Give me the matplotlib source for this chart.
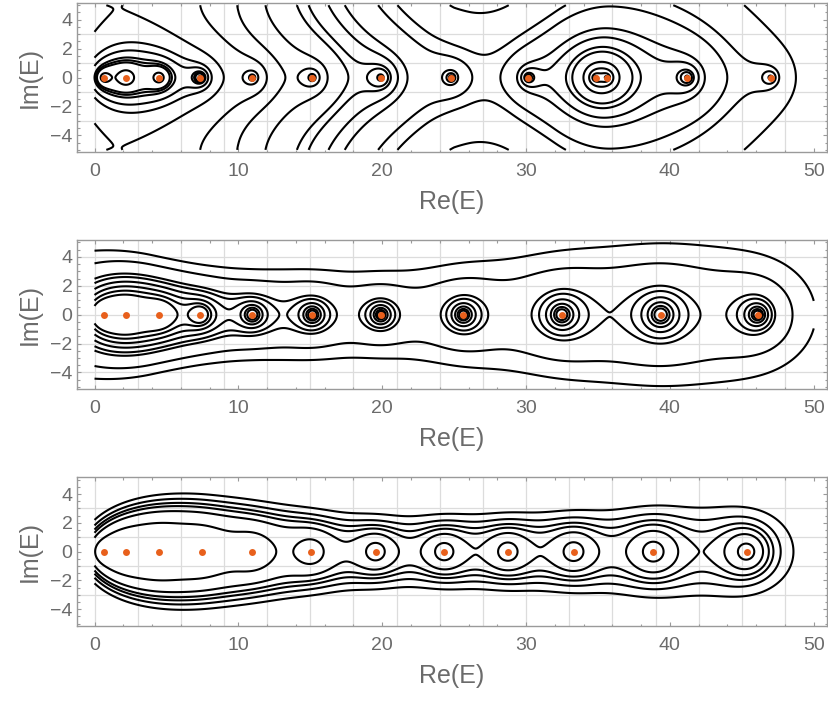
import numpy as np
import matplotlib
matplotlib.use("Agg")
import matplotlib.pyplot as plt
from matplotlib.ticker import MultipleLocator

plt.rcParams["font.family"] = ["Liberation Sans", "DejaVu Sans"]

# real eigenvalue estimates for the three truncations
roots_top = [0.67, 2.2, 4.5, 7.35, 10.98, 15.15, 19.9, 24.8, 30.16, 34.84, 35.6, 41.2, 47.0]
roots_mid = [0.67, 2.2, 4.5, 7.35, 10.98, 15.15, 19.9, 25.64, 32.48, 39.36, 46.1]
roots_bot = [0.67, 2.2, 4.5, 7.44, 10.98, 15.06, 19.55, 24.3, 28.73, 33.31, 38.85, 45.33]

# drift of log|f| along Re(E): slope given at a few knots
drift_x_top = [0, 5, 10, 14, 19, 23, 26, 29, 32, 36, 44, 50]
drift_s_top = [0.55, 0.52, 0.45, 0.37, 0.35, 0.3, 0.05, -0.45, -0.6, -0.3, -0.1, -0.1]
drift_x_mid = [0, 4, 8, 12, 17, 22, 30, 40, 50]
drift_s_mid = [0.6, 0.5, 0.15, -0.08, -0.12, -0.27, -0.29, -0.3, -0.33]
drift_x_bot = [0, 8, 17, 22, 26.5, 31, 36, 42, 50]
drift_s_bot = [0.25, 0.2, 0.0, -0.13, -0.2, -0.31, -0.41, -0.44, -0.45]

# flattening of log|f| across Im(E) (top panel only)
flat_x_top = [0, 10, 25, 50]
flat_c_top = [0.08, 0.07, 0.0, 0.0]
flat_x_none = [0, 50]
flat_c_none = [0.0, 0.0]

# contour levels of log|f|
levels_top = [31.98, 32.89, 33.08, 33.3, 33.78, 34.22, 35.02, 36.1, 37.0, 37.91, 38.93,
              39.31, 39.97, 40.52, 41.66, 42.32, 43.95]
levels_mid = [26.57, 26.92, 27.28, 27.64, 27.98, 28.22, 29.01, 29.6]
levels_bot = [29.4, 30.2, 30.52, 30.72, 30.97, 31.29]

xs = np.linspace(0, 50, 1400)
ys = np.linspace(-5, 5, 320)
X, Y = np.meshgrid(xs, ys)


def drift(x, knots, slopes):
    s = np.interp(xs, knots, slopes)
    g = np.concatenate([[0.0], np.cumsum(0.5 * (s[1:] + s[:-1]) * np.diff(xs))])
    return np.interp(x, xs, g)


def log_modulus(x, y, roots, knots, slopes, fx, fc):
    z = x + 1j * y
    total = drift(x, knots, slopes) - np.interp(x, fx, fc) * y ** 2
    for r in roots:
        total = total + np.log(np.abs(z - r) + 1e-12)
    return total


fig = plt.figure(figsize=(8.29, 7.02), dpi=100)
rects = [[0.0932, 0.7830, 0.904, 0.2131],
         [0.0932, 0.4454, 0.904, 0.2127],
         [0.0932, 0.1083, 0.904, 0.2118]]
grid_y = [[-3, -1, 1, 3], [-4, -2, 0, 2, 4], [-3, -1, 1, 3]]
panels = [(roots_top, drift_x_top, drift_s_top, flat_x_top, flat_c_top, levels_top),
          (roots_mid, drift_x_mid, drift_s_mid, flat_x_none, flat_c_none, levels_mid),
          (roots_bot, drift_x_bot, drift_s_bot, flat_x_none, flat_c_none, levels_bot)]

frame_col = "#9a9a9a"
text_col = "#6b6b6b"

for rect, gy, (roots, kx, ks, fx, fc, levels) in zip(rects, grid_y, panels):
    ax = fig.add_axes(rect)
    ax.set_xlim(-1.2, 50.9)
    ax.set_ylim(-5.17, 5.17)
    for gx in range(0, 49, 3):
        ax.axvline(gx, color="#dcdcdc", lw=0.9, zorder=0)
    for g in gy:
        ax.axhline(g, color="#dcdcdc", lw=0.9, zorder=0)

    phi = log_modulus(X, Y, roots, kx, ks, fx, fc)
    ax.contour(X, Y, phi, levels=levels, colors="black", linewidths=1.5, zorder=2)

    ax.plot(roots, np.zeros(len(roots)), "o", color="#e8601c", ms=5, mec="none", zorder=3)

    ax.xaxis.set_major_locator(MultipleLocator(10))
    ax.xaxis.set_minor_locator(MultipleLocator(2))
    ax.yaxis.set_major_locator(MultipleLocator(2))
    ax.yaxis.set_minor_locator(MultipleLocator(0.5))
    ax.tick_params(which="both", direction="in", top=True, right=True, color=frame_col,
                   labelcolor=text_col, labelsize=14)
    ax.tick_params(which="major", length=3.2, width=0.8)
    ax.tick_params(which="minor", length=1.8, width=0.8)
    ax.tick_params(axis="x", pad=8)
    ax.tick_params(axis="y", pad=3.5)
    for sp in ax.spines.values():
        sp.set_color(frame_col)
        sp.set_linewidth(1.0)
    ax.set_xlabel("Re(E)", fontsize=18, color=text_col, labelpad=7)
    ax.set_ylabel("Im(E)", fontsize=18, color=text_col, labelpad=6)

fig.savefig("out.png", dpi=100)
